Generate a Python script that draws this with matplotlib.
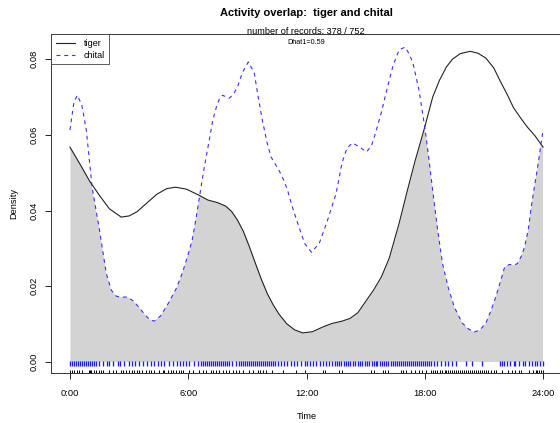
import numpy as np
import matplotlib
matplotlib.use('Agg')
import matplotlib.pyplot as plt
from matplotlib.patches import Polygon

plt.rcParams['font.family'] = ['Liberation Sans', 'DejaVu Sans']

# density curves (hour, density)
tiger_hours = [0.0, 0.5, 1.0, 1.5, 2.0, 2.6, 3.0, 3.4, 3.9, 4.4, 4.9, 5.35, 5.9, 6.5,
               7.0, 7.5, 7.9, 8.2, 8.5, 8.8, 9.1, 9.4, 9.7, 10.0, 10.3, 10.6, 11.0, 11.4,
               11.8, 12.3, 12.8, 13.3, 13.8, 14.2, 14.6, 15.0, 15.4, 15.8, 16.2, 16.7,
               17.1, 17.5, 18.0, 18.4, 18.75, 19.1, 19.4, 19.8, 20.3, 20.7, 21.1, 21.5,
               21.8, 22.2, 22.5, 22.9, 23.2, 23.6, 24.0]
tiger_density = [0.0568, 0.0524, 0.0478, 0.0440, 0.0405, 0.0383, 0.0386, 0.0397, 0.0420,
                 0.0443, 0.0458, 0.0462, 0.0457, 0.0442, 0.0428, 0.0421, 0.0412, 0.0398,
                 0.0375, 0.0345, 0.0305, 0.0262, 0.0220, 0.0182, 0.0152, 0.0127, 0.0101,
                 0.0085, 0.0077, 0.0080, 0.0092, 0.0102, 0.0108, 0.0115, 0.0130, 0.0160,
                 0.0190, 0.0225, 0.0275, 0.0367, 0.0450, 0.0530, 0.0621, 0.0700, 0.0745,
                 0.0780, 0.0800, 0.0815, 0.0821, 0.0816, 0.0803, 0.0777, 0.0745, 0.0705,
                 0.0672, 0.0642, 0.0621, 0.0597, 0.0568]

chital_hours = [0.0, 0.2, 0.37, 0.6, 0.83, 1.13, 1.5, 1.84, 2.1, 2.35, 2.6, 2.9, 3.2, 3.5,
                3.8, 4.05, 4.28, 4.6, 5.0, 5.4, 5.7, 6.0, 6.2, 6.4, 6.57, 6.8, 7.07, 7.25,
                7.43, 7.6, 7.74, 8.08, 8.3, 8.5, 8.75, 9.05, 9.35, 9.55, 9.76, 10.0, 10.2,
                10.6, 10.85, 11.04, 11.25, 11.5, 11.9, 12.25, 12.65, 13.07, 13.5, 13.8,
                14.05, 14.33, 14.7, 15.04, 15.3, 15.5, 15.8, 16.1, 16.4, 16.7, 17.0, 17.2,
                17.4, 17.7, 18.0, 18.2, 18.4, 18.65, 18.9, 19.2, 19.5, 19.9, 20.2, 20.5,
                20.8, 21.1, 21.35, 21.6, 21.85, 22.05, 22.3, 22.5, 22.7, 22.9, 23.06,
                23.25, 23.4, 23.55, 23.7, 23.85, 24.0]
chital_density = [0.0613, 0.0685, 0.0705, 0.0680, 0.0613, 0.0460, 0.0349, 0.0235, 0.0190,
                  0.0174, 0.0171, 0.0172, 0.0162, 0.0145, 0.0125, 0.0112, 0.0108, 0.0122,
                  0.0156, 0.0195, 0.0235, 0.0285, 0.0322, 0.0380, 0.0436, 0.0510, 0.0587,
                  0.0640, 0.0674, 0.0698, 0.0705, 0.0697, 0.0708, 0.0727, 0.0765, 0.0793,
                  0.0764, 0.0700, 0.0639, 0.0580, 0.0542, 0.0507, 0.0480, 0.0454, 0.0415,
                  0.0375, 0.0314, 0.0290, 0.0314, 0.0375, 0.0445, 0.0526, 0.0565, 0.0579,
                  0.0568, 0.0555, 0.0572, 0.0605, 0.0660, 0.0725, 0.0785, 0.0825, 0.0832,
                  0.0815, 0.0790, 0.0720, 0.0620, 0.0540, 0.0454, 0.0350, 0.0260, 0.0195,
                  0.0145, 0.0103, 0.0088, 0.0079, 0.0085, 0.0103, 0.0135, 0.0172, 0.0215,
                  0.0251, 0.0258, 0.0256, 0.0260, 0.0280, 0.0304, 0.0350, 0.0410, 0.0460,
                  0.0507, 0.0560, 0.0613]

# record times (rug), approximate
tiger_rug = [0.0, 0.1, 0.22, 0.34, 0.47, 0.59, 0.95, 1.01, 1.06, 1.23, 1.32, 1.45, 1.57,
             1.69, 1.96, 2.16, 2.33, 2.59, 2.71, 2.84, 3.01, 3.15, 3.26, 3.38, 3.52, 3.65,
             3.86, 4.02, 4.11, 4.28, 4.53, 4.70, 4.79, 4.96, 5.13, 5.24, 5.38, 5.55, 5.63,
             5.72, 6.05, 6.23, 6.56, 6.73, 6.90, 7.16, 7.24, 7.41, 7.58, 7.75, 7.92, 8.09,
             8.25, 8.42, 8.59, 8.76, 9.10, 9.30, 9.52, 9.64, 9.78, 9.95, 10.25, 10.79,
             11.47, 11.9, 12.86, 12.96, 13.67, 13.80, 15.28, 15.40, 15.87, 16.0, 16.12,
             16.80, 16.92, 17.06, 17.31, 17.48, 17.73, 17.87, 18.07, 18.3, 18.4, 18.5,
             18.6, 18.75, 18.85, 19.0, 19.1, 19.2, 19.3, 19.4, 19.5, 19.6, 19.7, 19.8,
             19.9, 20.0, 20.1, 20.2, 20.3, 20.4, 20.5, 20.6, 20.7, 20.8, 20.9, 21.0, 21.1,
             21.2, 21.35, 21.5, 21.6, 21.9, 22.2, 22.4, 22.6, 22.8, 22.9, 23.3, 23.5,
             23.65, 23.7, 23.8, 23.9, 24.0]
chital_rug = [0.0, 0.1, 0.2, 0.3, 0.4, 0.5, 0.6, 0.7, 0.8, 0.9, 1.0, 1.1, 1.2, 1.32, 1.49,
              1.66, 1.86, 2.0, 2.16, 2.42, 2.54, 2.76, 3.01, 3.15, 3.31, 3.52, 3.69, 3.89,
              4.11, 4.28, 4.45, 4.62, 4.79, 5.04, 5.24, 5.41, 5.58, 5.72, 5.89, 6.05, 6.31,
              6.48, 6.65, 6.75, 6.85, 6.95, 7.05, 7.15, 7.25, 7.35, 7.45, 7.55, 7.65, 7.75,
              7.85, 7.95, 8.05, 8.2, 8.4, 8.6, 8.7, 8.8, 8.9, 9.0, 9.1, 9.2, 9.3, 9.4, 9.5,
              9.6, 9.7, 9.8, 9.9, 10.0, 10.1, 10.2, 10.3, 10.4, 10.55, 10.7, 10.85, 11.0,
              11.2, 11.35, 11.5, 11.7, 11.9, 12.0, 12.2, 12.35, 12.5, 12.7, 12.85, 13.0,
              13.15, 13.3, 13.45, 13.55, 13.65, 13.75, 13.9, 14.0, 14.1, 14.2, 14.35,
              14.45, 14.6, 14.7, 14.8, 14.95, 15.05, 15.15, 15.3, 15.4, 15.5, 15.6, 15.75,
              15.85, 15.95, 16.05, 16.15, 16.3, 16.4, 16.5, 16.6, 16.7, 16.8, 16.9, 17.0,
              17.1, 17.2, 17.3, 17.4, 17.5, 17.6, 17.7, 17.8, 17.9, 18.0, 18.1, 18.2, 18.3,
              18.45, 18.6, 18.8, 19.0, 19.2, 19.4, 19.6, 20.1, 20.4, 20.9, 21.8, 21.9,
              22.0, 22.15, 22.3, 22.5, 22.6, 22.8, 23.0, 23.1, 23.3, 23.45, 23.6, 23.7,
              23.85, 24.0]

xticks = [0, 6, 12, 18, 24]
xtick_labels = ['0:00', '6:00', '12:00', '18:00', '24:00']
yticks = [0.00, 0.02, 0.04, 0.06, 0.08]
dhat = 0.59

fig = plt.figure(figsize=(5.6, 4.23), dpi=100)
ax = fig.add_axes([51 / 560, 1 - 373 / 423, 511 / 560, (373 - 34.3) / 423])
ax.set_xlim(-0.96, 24.96)
ax.set_ylim(-0.0029, 0.0866)

# overlap area: fill under tiger clipped by area under chital
fill = ax.fill_between(tiger_hours, 0, tiger_density, color='lightgrey', lw=0, zorder=1)
clip_poly = Polygon(list(zip([chital_hours[0]] + chital_hours + [chital_hours[-1]],
                             [0] + chital_density + [0])),
                    closed=True, transform=ax.transData)
fill.set_clip_path(clip_poly)

ax.plot(tiger_hours, tiger_density, color='#222222', lw=0.8, label='tiger', zorder=3)
ax.plot(chital_hours, chital_density, color='#3333ff', lw=0.8,
        linestyle=(0, (3.5, 3.5)), label='chital', zorder=3)

# rugs
ax.vlines(chital_rug, -0.00106, 0.00026, color='#1a1aff', lw=0.95, zorder=2)
ax.vlines(tiger_rug, -0.0029, -0.0022, color='black', lw=0.7, zorder=2)

ax.set_xticks(xticks)
ax.set_xticklabels(xtick_labels)
ax.set_yticks(yticks)
ax.set_yticklabels(['%.2f' % v for v in yticks], rotation=90, va='center')
ax.tick_params(axis='both', labelsize=6.7, length=4.3, width=0.6, direction='out')
ax.tick_params(axis='x', pad=7)
ax.tick_params(axis='y', pad=4.5)
for s in ax.spines.values():
    s.set_linewidth(0.7)
    s.set_color('#333333')

ax.set_xlabel('Time', fontsize=6.7, labelpad=10)
ax.set_ylabel('Density', fontsize=6.7, labelpad=8)

fig.text(306 / 560, 1 - 13 / 423, 'Activity overlap:  tiger and chital',
         fontsize=8, fontweight='bold', ha='center', va='center')
fig.text(306 / 560, 1 - 31 / 423, 'number of records: 378 / 752',
         fontsize=6.6, ha='center', va='center')
ax.text(0.5, 0.975, 'Dhat1=%.2f' % dhat, transform=ax.transAxes,
        fontsize=5.2, ha='center', va='center')

leg = ax.legend(loc='upper left', borderaxespad=0, fontsize=6.5, handlelength=2.2,
                handletextpad=0.9, labelspacing=0.35, borderpad=0.5, fancybox=False)
leg.get_frame().set_edgecolor('#333333')
leg.get_frame().set_linewidth(0.7)

plt.savefig('out.png', dpi=100)
